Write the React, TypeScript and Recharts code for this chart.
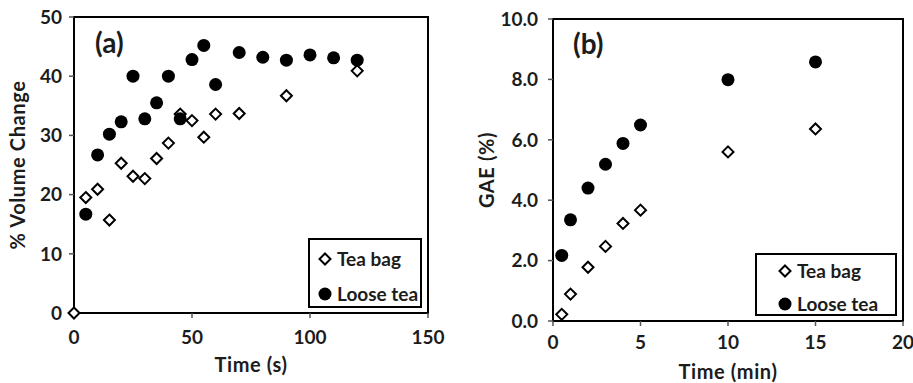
import React from 'react';
import { ScatterChart, Scatter, XAxis, YAxis, ReferenceArea } from 'recharts';

// Panel (a): % Volume change vs time (s)
const aBagTime = [0, 5, 10, 15, 20, 25, 30, 35, 40, 45, 50, 55, 60, 70, 90, 120];
const aBagValue = [0, 19.5, 20.9, 15.7, 25.3, 23.1, 22.7, 26.1, 28.7, 33.6, 32.5, 29.7, 33.6, 33.7, 36.7, 40.9];
const aLooseTime = [5, 10, 15, 20, 25, 30, 35, 40, 45, 50, 55, 60, 70, 80, 90, 100, 110, 120];
const aLooseValue = [16.7, 26.7, 30.2, 32.3, 40.0, 32.8, 35.5, 40.0, 32.8, 42.8, 45.2, 38.6, 44.0, 43.2, 42.7, 43.6, 43.1, 42.7];
const aXTicks = [0, 50, 100, 150];
const aYTicks = [0, 10, 20, 30, 40, 50];

// Panel (b): GAE (%) vs time (min)
const bTime = [0.5, 1, 2, 3, 4, 5, 10, 15];
const bBagValue = [0.22, 0.89, 1.78, 2.47, 3.23, 3.67, 5.6, 6.36];
const bLooseValue = [2.17, 3.35, 4.4, 5.19, 5.88, 6.49, 7.99, 8.58];
const bXTicks = [0, 5, 10, 15, 20];
const bYTicks = [0, 2, 4, 6, 8, 10];

const seriesNames = ['Tea bag', 'Loose tea'];

const toPoints = (xs: number[], ys: number[]) => xs.map((x, i) => ({ x, y: ys[i] }));

const FONT = 'Lato, "Noto Sans", sans-serif';
const TEXT = '#1c1c1c';
const tickStyle = { fill: TEXT, fontSize: 19, fontWeight: 700, fontFamily: FONT };
const axisLabelStyle = { fill: TEXT, fontSize: 20, fontWeight: 700, fontFamily: FONT, letterSpacing: 0.6 };

const DiamondShape = (props: any) => {
  const { cx, cy } = props;
  const s = 5.5;
  return (
    <path
      d={`M${cx},${cy - s}L${cx + s},${cy}L${cx},${cy + s}L${cx - s},${cy}Z`}
      fill="#fff"
      stroke="#000"
      strokeWidth={2}
    />
  );
};

const CircleShape = (props: any) => {
  const { cx, cy } = props;
  return <circle cx={cx} cy={cy} r={6.5} fill="#000" />;
};

type LegendProps = { left: number; top: number; width: number; height: number; iconX: number; textX: number; rowY: number[] };
const LegendBox = ({ left, top, width, height, iconX, textX, rowY }: LegendProps) => (
  <div
    style={{
      position: 'absolute',
      left,
      top,
      width,
      height,
      border: '2px solid #000',
      background: '#fff',
      boxSizing: 'border-box',
      fontFamily: FONT,
      fontWeight: 700,
      fontSize: 19,
      color: TEXT,
    }}
  >
    {seriesNames.map((name, i) => (
      <React.Fragment key={name}>
        <svg
          width={16}
          height={16}
          style={{ position: 'absolute', left: iconX - 8, top: rowY[i] - 8 }}
        >
          {i === 0 ? (
            <path d="M8,2.5L13.5,8L8,13.5L2.5,8Z" fill="#fff" stroke="#000" strokeWidth={2} />
          ) : (
            <circle cx={8} cy={8} r={6.5} fill="#000" />
          )}
        </svg>
        <div
          style={{
            position: 'absolute',
            left: textX,
            top: rowY[i] - 12,
            lineHeight: '24px',
            whiteSpace: 'nowrap',
          }}
        >
          {name}
        </div>
      </React.Fragment>
    ))}
  </div>
);

export default function App() {
  return (
    <div style={{ position: 'absolute', left: 0, top: 0, width: 913, height: 383, background: '#fff', overflow: 'hidden' }}>
      <div style={{ position: 'absolute', left: 0, top: 0, width: 460, height: 383 }}>
        <ScatterChart width={460} height={383} margin={{ top: 17, right: 32, bottom: 5, left: 0 }}>
          <XAxis
            type="number"
            dataKey="x"
            domain={[0, 150]}
            ticks={aXTicks}
            height={65}
            tick={tickStyle}
            tickSize={5}
            tickMargin={13}
            axisLine={{ stroke: '#000', strokeWidth: 2 }}
            tickLine={{ stroke: '#555', strokeWidth: 1.5 }}
            label={{ value: 'Time (s)', position: 'insideBottom', offset: 6, style: axisLabelStyle }}
          />
          <YAxis
            type="number"
            dataKey="y"
            domain={[0, 50]}
            ticks={aYTicks}
            width={74}
            tick={tickStyle}
            tickSize={5}
            tickMargin={7}
            axisLine={{ stroke: '#000', strokeWidth: 2 }}
            tickLine={{ stroke: '#555', strokeWidth: 1.5 }}
            label={{ value: '% Volume Change', angle: -90, position: 'insideLeft', offset: 18, style: { ...axisLabelStyle, textAnchor: 'middle' } }}
          />
          <ReferenceArea x1={0} x2={150} y1={0} y2={50} fill="none" fillOpacity={0} stroke="#000" strokeWidth={2} ifOverflow="visible" />
          <Scatter name={seriesNames[0]} data={toPoints(aBagTime, aBagValue)} shape={DiamondShape} isAnimationActive={false} />
          <Scatter name={seriesNames[1]} data={toPoints(aLooseTime, aLooseValue)} shape={CircleShape} isAnimationActive={false} />
          <text x={95} y={53} style={{ fontFamily: FONT, fontWeight: 700, fontSize: 28, fill: TEXT }}>(a)</text>
        </ScatterChart>
        <LegendBox left={308} top={238} width={114} height={70} iconX={15} textX={27} rowY={[19, 54]} />
      </div>
      <div style={{ position: 'absolute', left: 460, top: 0, width: 453, height: 383 }}>
        <ScatterChart width={453} height={383} margin={{ top: 19, right: 10, bottom: 5, left: 0 }}>
          <XAxis
            type="number"
            dataKey="x"
            domain={[0, 20]}
            ticks={bXTicks}
            height={57}
            tick={tickStyle}
            tickSize={5}
            tickMargin={10}
            axisLine={{ stroke: '#000', strokeWidth: 2 }}
            tickLine={{ stroke: '#555', strokeWidth: 1.5 }}
            label={{ value: 'Time (min)', position: 'insideBottom', offset: -1, style: axisLabelStyle }}
          />
          <YAxis
            type="number"
            dataKey="y"
            domain={[0, 10]}
            ticks={bYTicks}
            width={93}
            tick={tickStyle}
            tickFormatter={(v: number) => v.toFixed(1)}
            tickSize={5}
            tickMargin={10}
            axisLine={{ stroke: '#000', strokeWidth: 2 }}
            tickLine={{ stroke: '#555', strokeWidth: 1.5 }}
            label={{ value: 'GAE (%)', angle: -90, position: 'insideLeft', offset: 27, style: { ...axisLabelStyle, textAnchor: 'middle' } }}
          />
          <ReferenceArea x1={0} x2={20} y1={0} y2={10} fill="none" fillOpacity={0} stroke="#000" strokeWidth={2} ifOverflow="visible" />
          <Scatter name={seriesNames[0]} data={toPoints(bTime, bBagValue)} shape={DiamondShape} isAnimationActive={false} />
          <Scatter name={seriesNames[1]} data={toPoints(bTime, bLooseValue)} shape={CircleShape} isAnimationActive={false} />
          <text x={113} y={54} style={{ fontFamily: FONT, fontWeight: 700, fontSize: 28, fill: TEXT }}>(b)</text>
        </ScatterChart>
        <LegendBox left={295} top={253} width={142} height={63} iconX={28} textX={40} rowY={[16, 49]} />
      </div>
    </div>
  );
}
